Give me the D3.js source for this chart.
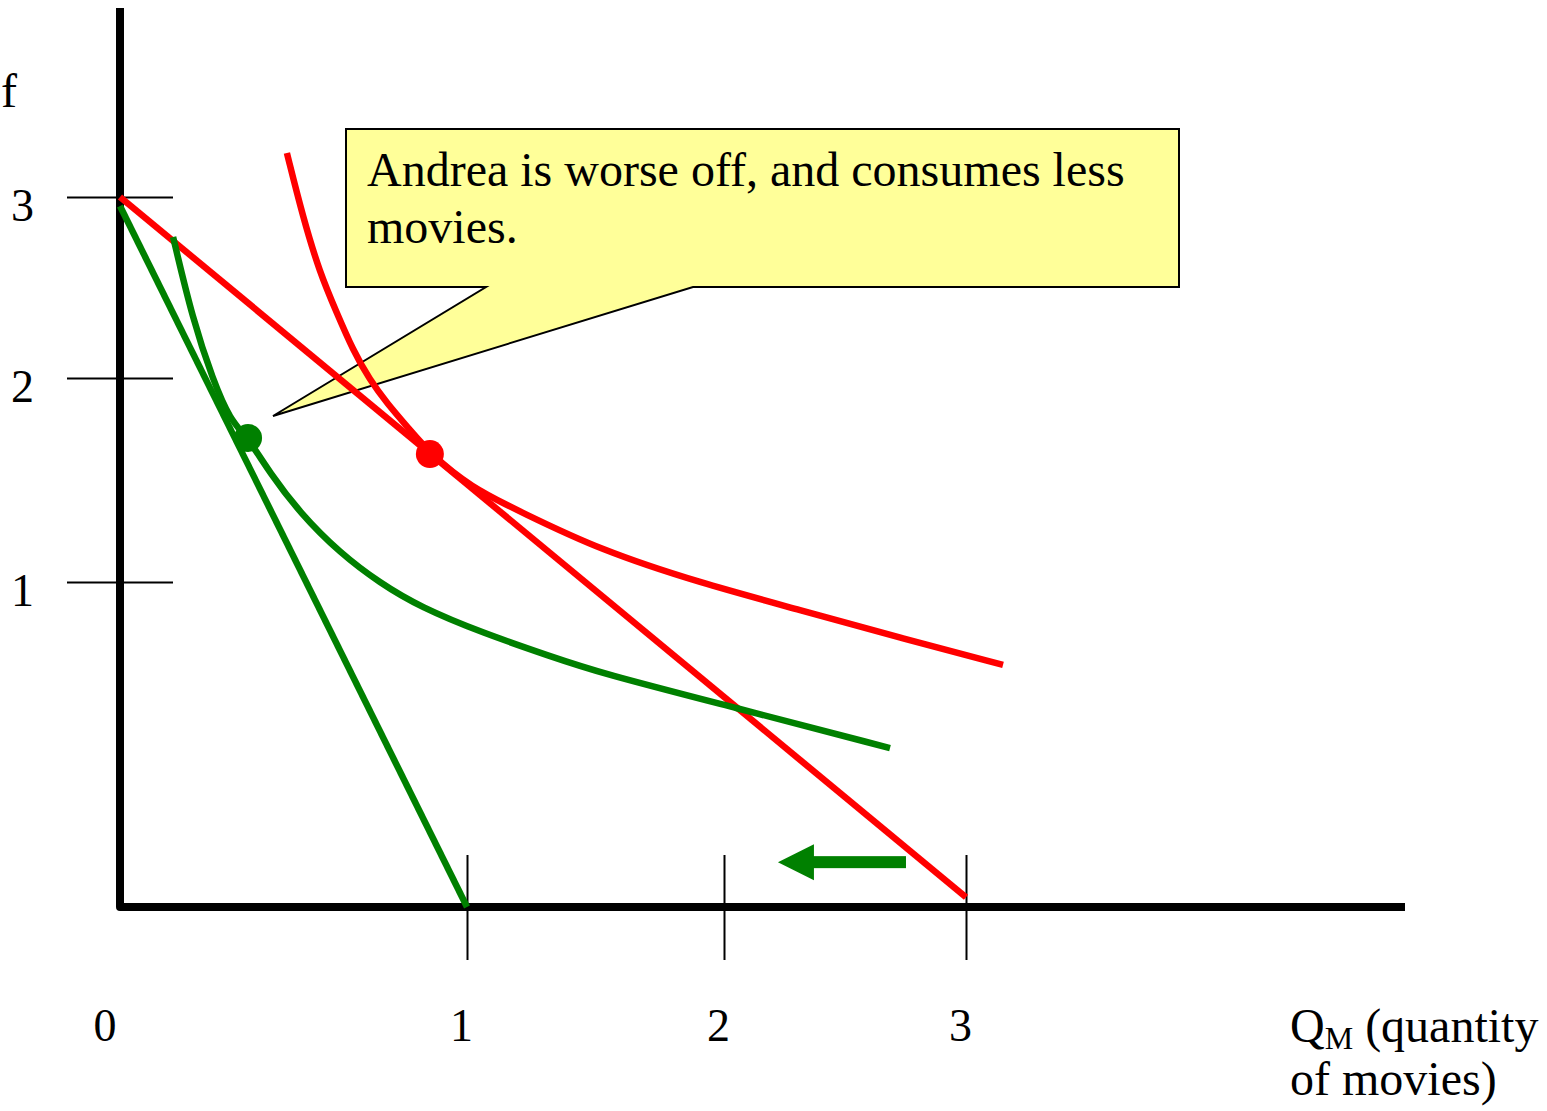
<!DOCTYPE html>
<html lang="en">
<head>
<meta charset="utf-8">
<title>Andrea is worse off</title>
<script src="https://cdn.jsdelivr.net/npm/d3@7"></script>
<style>
  body { margin: 0; background: #fff; }
  text { font-family: "Liberation Serif", "Times New Roman", serif; fill: #000; }
</style>
</head>
<body>
<script>
// Height and width
var w = 1547;
var h = 1111;

// Tick values on both axes (the hand drawn axes are not evenly spaced)
var xTicks = [1, 2, 3];
var yTicks = [1, 2, 3];

// Budget lines: [quantity of movies, quantity of the other good]
var budgetOld = [[0, 3], [3, 0.03]];
var budgetNew = [[0, 2.95], [1, 0]];

// Indifference curves
var curveHigh = [[0.481, 3.243], [0.527, 2.890], [0.576, 2.580], [0.625, 2.359],
                 [0.671, 2.155], [0.720, 1.990], [0.769, 1.877], [0.836, 1.745],
                 [0.893, 1.632], [1.012, 1.466], [1.218, 1.338], [1.518, 1.157],
                 [1.907, 0.997], [2.314, 0.914], [2.727, 0.828], [3.153, 0.745]];
var curveLow = [[0.153, 2.779], [0.210, 2.320], [0.268, 1.990], [0.317, 1.794],
                [0.369, 1.706], [0.432, 1.534], [0.519, 1.338], [0.634, 1.142],
                [0.749, 0.997], [0.865, 0.923], [1.062, 0.843], [1.323, 0.772],
                [1.518, 0.720], [2.037, 0.615], [2.686, 0.489]];

// Optimal bundles
var optimumOld = [0.893, 1.627];
var optimumNew = [0.369, 1.706];

// Arrow showing the shift of the budget line: from, to
var shiftArrow = [[2.752, 0.138], [2.223, 0.138]];

var note = ["Andrea is worse off, and consumes less", "movies."];

// Scales, piecewise so the ticks land where they were drawn
var xScale = d3.scaleLinear()
    .domain([0, 1, 2, 3, 4])
    .range([120, 467, 724, 966, 1208]);

var yScale = d3.scaleLinear()
    .domain([0, 1, 2, 3, 4])
    .range([907, 582, 378, 197, 16]);

var svg = d3.select("body")
    .append("svg")
    .attr("width", w)
    .attr("height", h);

// Callout box with its pointer
svg.append("path")
   .attr("d", "M346,129 H1179 V287 H693 L273,416 L486,287 H346 Z")
   .attr("fill", "#ffff99")
   .attr("stroke", "#000")
   .attr("stroke-width", 2);

svg.selectAll("text.note")
   .data(note)
   .enter()
   .append("text")
   .attr("class", "note")
   .attr("x", 367)
   .attr("y", function(d, i) { return 186 + i * 57; })
   .attr("font-size", "48px")
   .text(function(d) { return d; });

// Tick marks crossing the axes
var yAxis = d3.axisLeft(yScale)
    .tickValues(yTicks)
    .tickSize(106)
    .tickFormat(d3.format("d"));

var gy = svg.append("g")
    .attr("transform", "translate(173,0)")
    .call(yAxis);
gy.select(".domain").remove();
gy.selectAll(".tick line").attr("stroke", "#000").attr("stroke-width", 2);
gy.selectAll(".tick text")
  .attr("x", -139)
  .attr("dy", "0.5em")
  .attr("font-size", "46px")
  .attr("font-family", "Liberation Serif, Times New Roman, serif");

var xAxis = d3.axisBottom(xScale)
    .tickValues(xTicks)
    .tickSize(105)
    .tickFormat(d3.format("d"));

var gx = svg.append("g")
    .attr("transform", "translate(0,855)")
    .call(xAxis);
gx.select(".domain").remove();
gx.selectAll(".tick line").attr("stroke", "#000").attr("stroke-width", 2);
gx.selectAll(".tick text")
  .attr("y", 186)
  .attr("dy", 0)
  .attr("dx", -6)
  .attr("font-size", "46px")
  .attr("font-family", "Liberation Serif, Times New Roman, serif");

// Origin label
svg.append("text")
   .attr("x", xScale(0) - 15)
   .attr("y", 1041)
   .attr("text-anchor", "middle")
   .attr("font-size", "46px")
   .text("0");

// Main axes
svg.append("path")
   .attr("d", "M" + xScale(0) + ",8 V" + yScale(0) + " H1405")
   .attr("fill", "none")
   .attr("stroke", "#000")
   .attr("stroke-width", 8)
   .attr("stroke-linejoin", "round");

// Axis titles (the vertical one is cut by the left edge in the original)
svg.append("text")
   .attr("x", 1)
   .attr("y", 107)
   .attr("font-size", "48px")
   .text("f");

var qm = svg.append("text")
   .attr("x", 1290)
   .attr("y", 1042)
   .attr("font-size", "48px");
qm.append("tspan").text("Q");
qm.append("tspan").attr("font-size", "32px").attr("dy", 7).text("M");
qm.append("tspan").attr("dy", -7).text(" (quantity");

svg.append("text")
   .attr("x", 1290)
   .attr("y", 1095)
   .attr("font-size", "48px")
   .text("of movies)");

// Lines and curves
var straight = d3.line()
    .x(function(d) { return xScale(d[0]); })
    .y(function(d) { return yScale(d[1]); });

var smooth = d3.line()
    .x(function(d) { return xScale(d[0]); })
    .y(function(d) { return yScale(d[1]); })
    .curve(d3.curveBasis);

svg.append("path")
   .attr("d", straight(budgetOld))
   .attr("fill", "none")
   .attr("stroke", "#ff0000")
   .attr("stroke-width", 6.5);

svg.append("path")
   .attr("d", smooth(curveHigh))
   .attr("fill", "none")
   .attr("stroke", "#ff0000")
   .attr("stroke-width", 6.5);

svg.append("path")
   .attr("d", straight(budgetNew))
   .attr("fill", "none")
   .attr("stroke", "#008000")
   .attr("stroke-width", 6.5);

svg.append("path")
   .attr("d", smooth(curveLow))
   .attr("fill", "none")
   .attr("stroke", "#008000")
   .attr("stroke-width", 6.5);

// Optimal points
svg.append("circle")
   .attr("cx", xScale(optimumOld[0]))
   .attr("cy", yScale(optimumOld[1]))
   .attr("r", 14)
   .attr("fill", "#ff0000");

svg.append("circle")
   .attr("cx", xScale(optimumNew[0]))
   .attr("cy", yScale(optimumNew[1]))
   .attr("r", 14)
   .attr("fill", "#008000");

// Shift arrow
var ax0 = xScale(shiftArrow[0][0]);
var ax1 = xScale(shiftArrow[1][0]);
var ay = yScale(shiftArrow[0][1]);

svg.append("rect")
   .attr("x", ax1 + 34)
   .attr("y", ay - 6)
   .attr("width", ax0 - ax1 - 34)
   .attr("height", 12)
   .attr("fill", "#008000");

svg.append("path")
   .attr("d", "M" + ax1 + "," + ay + " L" + (ax1 + 36) + "," + (ay - 18) +
              " L" + (ax1 + 36) + "," + (ay + 18) + " Z")
   .attr("fill", "#008000");
</script>
</body>
</html>
